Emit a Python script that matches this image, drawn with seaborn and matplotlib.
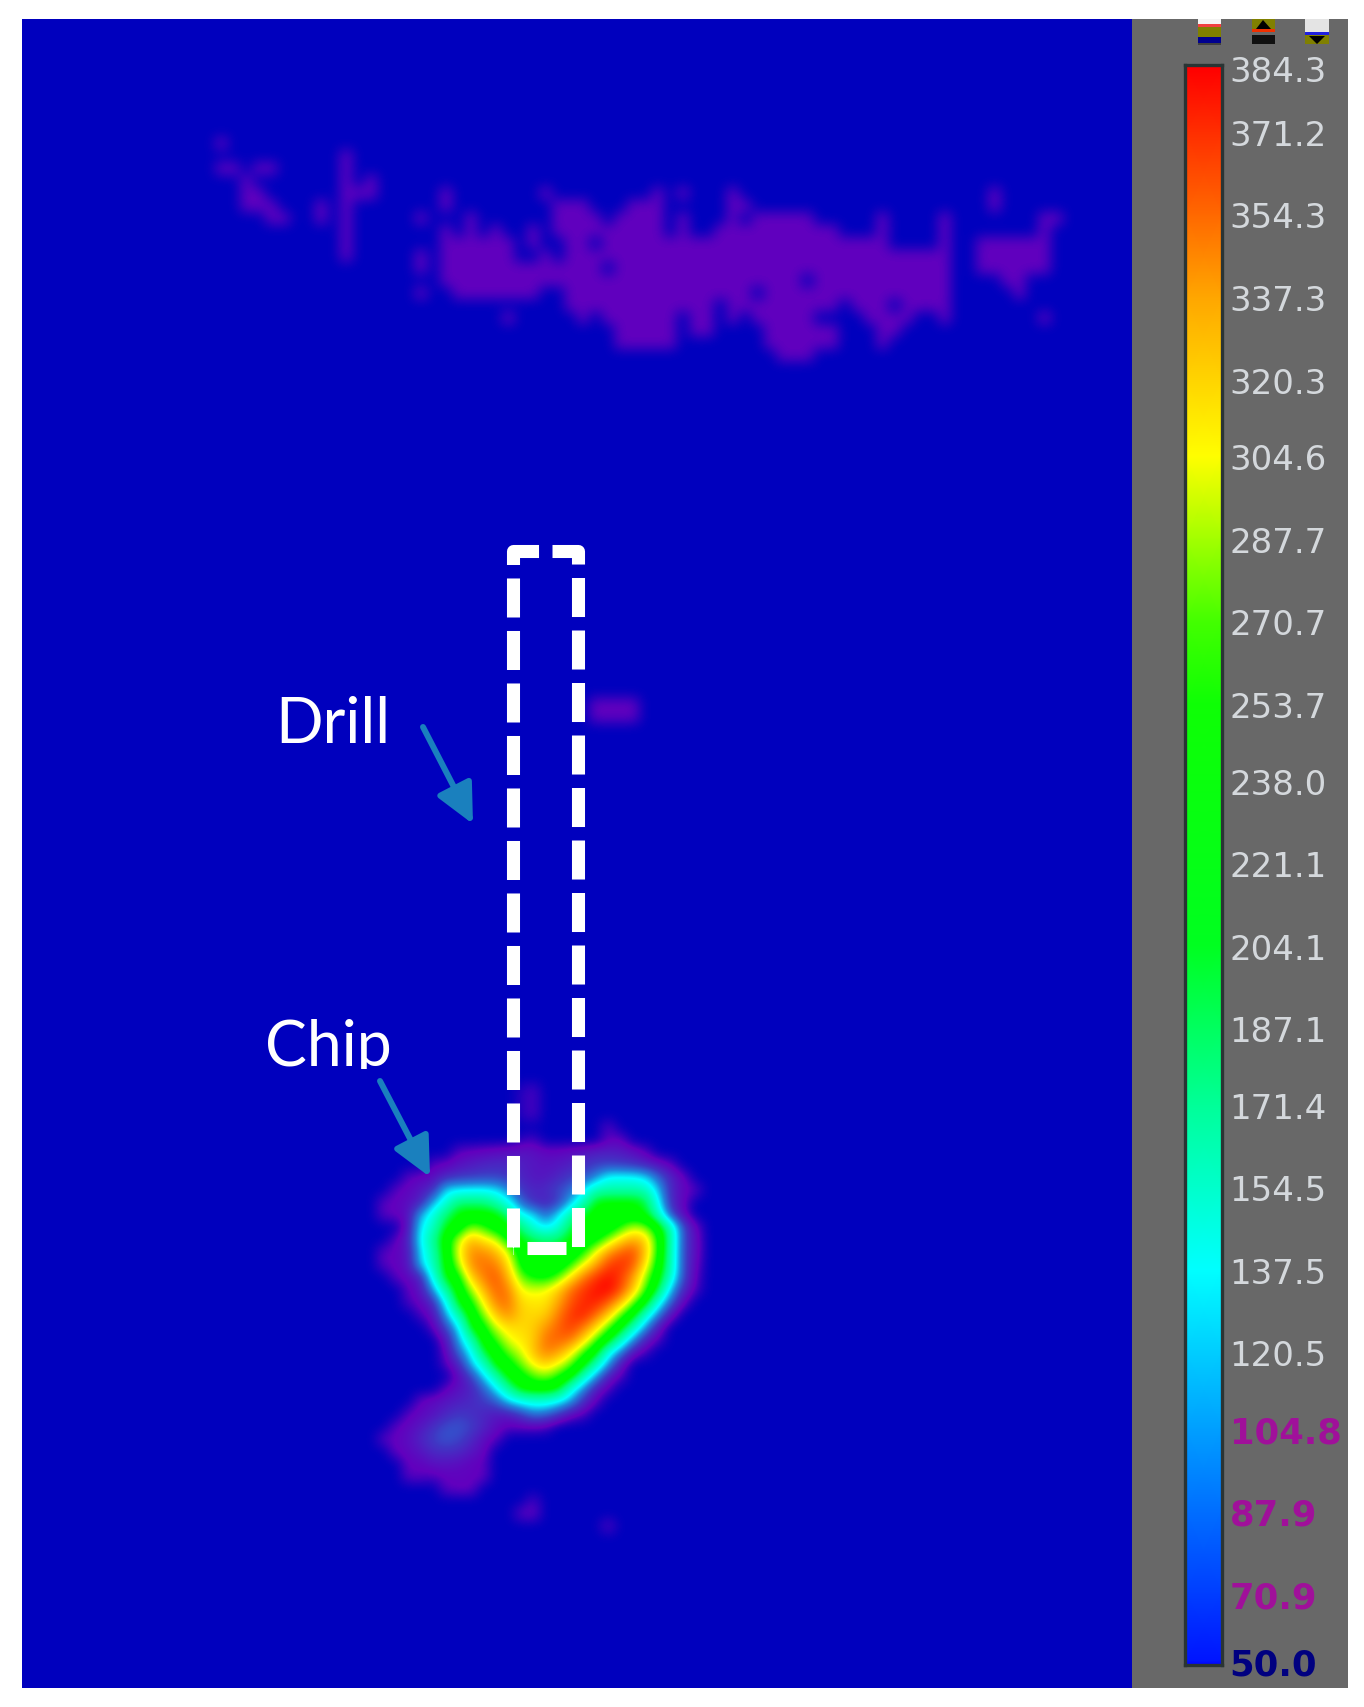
import numpy as np
import matplotlib
matplotlib.use("Agg")
import matplotlib.pyplot as plt
import seaborn as sns
from matplotlib.colors import LinearSegmentedColormap, Normalize
from matplotlib.patches import FancyArrowPatch, Polygon, Rectangle

# colour bar labels, top to bottom
bar_ticks = [384.3, 371.2, 354.3, 337.3, 320.3, 304.6, 287.7, 270.7, 253.7, 238.0, 221.1,
             204.1, 187.1, 171.4, 154.5, 137.5, 120.5, 104.8, 87.9, 70.9, 50.0]
bar_label_colors = ["#d4d8dc"] * 17 + ["#a0109a"] * 3 + ["#000080"]

# temperature of the background and of the faint top cloud
background_temp = 50.0
cloud_temp = 63.0

# faint cloud, as (row, first column, last column) runs of grid cells
cloud_runs = [
    (10, 16, 16), (11, 26, 26),
    (12, 16, 17), (12, 19, 20), (12, 26, 26),
    (13, 18, 18), (13, 26, 26), (13, 28, 28),
    (14, 18, 19), (14, 26, 28), (14, 34, 34), (14, 42, 42), (14, 51, 51), (14, 53, 53),
    (14, 57, 57), (14, 78, 78),
    (15, 18, 20), (15, 24, 24), (15, 26, 26), (15, 34, 34), (15, 43, 45), (15, 49, 51),
    (15, 57, 58), (15, 78, 78),
    (16, 20, 21), (16, 24, 24), (16, 26, 26), (16, 32, 32), (16, 36, 36), (16, 43, 46),
    (16, 48, 51), (16, 53, 53), (16, 57, 57), (16, 59, 63), (16, 69, 69), (16, 74, 74),
    (16, 82, 83),
    (17, 26, 26), (17, 34, 34), (17, 36, 36), (17, 38, 38), (17, 41, 41), (17, 43, 47),
    (17, 48, 51), (17, 53, 53), (17, 56, 65), (17, 69, 69), (17, 74, 74), (17, 82, 82),
    (18, 26, 26), (18, 34, 39), (18, 41, 41), (18, 44, 45), (18, 47, 69), (18, 74, 74),
    (18, 77, 82),
    (19, 26, 26), (19, 32, 32), (19, 34, 39), (19, 42, 42), (19, 44, 74), (19, 77, 82),
    (20, 32, 32), (20, 34, 46), (20, 48, 74), (20, 77, 82),
    (21, 34, 62), (21, 64, 74), (21, 79, 80),
    (22, 32, 32), (22, 35, 41), (22, 44, 58), (22, 60, 74), (22, 80, 80),
    (23, 44, 55), (23, 57, 65), (23, 67, 69), (23, 71, 74),
    (24, 39, 39), (24, 45, 45), (24, 47, 52), (24, 54, 55), (24, 57, 57), (24, 59, 63),
    (24, 68, 71), (24, 74, 74), (24, 82, 82),
    (25, 48, 52), (25, 54, 55), (25, 60, 65), (25, 69, 70),
    (26, 48, 52), (26, 60, 65), (26, 69, 69),
    (27, 61, 63),
    (55, 46, 49), (56, 46, 49),
]

# hot spot below the drill: first row, then first column and values of each row
chip_first_row = 86
chip_first_cols = [40, 40, 40, 47, 40, 35, 33, 31, 30, 29, 29, 31, 30, 29, 29, 30, 31, 31, 32, 33, 34,
                   34, 34, 35, 34, 32, 31, 30, 29, 30, 31, 31, 34, 41, 40, 47]
chip_values = [
    [55, 60],
    [55, 60],
    [55, 60],
    [62],
    [55, 60, 50, 50, 50, 50, 50, 62, 64],
    [62, 64, 66, 68, 70, 72, 70, 66, 66, 68, 72, 76, 76, 74, 70, 62],
    [62, 64, 70, 74, 78, 80, 80, 76, 72, 70, 72, 76, 82, 86, 88, 86, 82, 76, 70, 62],
    [62, 64, 68, 78, 84, 86, 88, 88, 84, 78, 72, 72, 78, 86, 92, 110, 140, 140, 140, 130, 100, 78, 65],
    [62, 65, 72, 80, 130, 132, 135, 135, 130, 110, 85, 78, 80, 90, 100, 130, 165, 170, 170, 170, 165, 125, 78, 66, 62],
    [62, 64, 68, 75, 120, 150, 190, 190, 190, 170, 140, 100, 80, 75, 85, 120, 160, 215, 220, 220, 220, 205, 140, 80, 65],
    [62, 64, 68, 120, 150, 190, 220, 222, 222, 220, 190, 140, 130, 100, 130, 170, 210, 225, 225, 225, 225, 215, 165, 92, 65],
    [70, 135, 160, 215, 225, 270, 255, 230, 220, 190, 150, 130, 150, 200, 225, 225, 225, 250, 280, 270, 230, 170, 92, 65],
    [62, 75, 140, 180, 230, 280, 320, 300, 285, 240, 215, 200, 190, 195, 220, 230, 235, 270, 305, 325, 310, 250, 175, 92, 68],
    [62, 64, 70, 130, 170, 225, 290, 335, 335, 320, 285, 230, 215, 210, 215, 225, 245, 290, 330, 350, 360, 315, 250, 170, 92, 68],
    [62, 64, 70, 125, 165, 220, 275, 335, 345, 340, 305, 240, 220, 218, 225, 250, 290, 325, 360, 370, 355, 300, 240, 170, 92, 65],
    [62, 66, 75, 150, 215, 240, 310, 340, 355, 320, 265, 245, 240, 260, 300, 340, 365, 380, 365, 330, 275, 225, 160, 92, 62],
    [62, 70, 115, 180, 225, 275, 320, 350, 340, 290, 285, 290, 310, 345, 365, 378, 384, 360, 315, 260, 205, 125, 80, 60],
    [60, 65, 80, 140, 215, 245, 295, 340, 345, 305, 300, 300, 325, 355, 370, 375, 355, 320, 270, 225, 150, 100, 65],
    [60, 68, 115, 175, 225, 270, 315, 335, 310, 305, 310, 340, 365, 375, 350, 315, 265, 225, 160, 110, 70],
    [62, 90, 130, 215, 240, 285, 305, 305, 310, 330, 350, 365, 345, 310, 265, 225, 170, 115, 72],
    [70, 115, 170, 225, 255, 290, 300, 310, 345, 350, 345, 310, 265, 225, 170, 115, 75, 60],
    [62, 100, 135, 205, 230, 265, 285, 315, 340, 330, 300, 260, 225, 150, 110, 70, 58],
    [60, 75, 120, 160, 220, 235, 265, 295, 310, 290, 265, 225, 170, 115, 70],
    [65, 85, 125, 170, 220, 235, 260, 270, 250, 225, 165, 115, 72, 60],
    [62, 70, 75, 95, 130, 175, 220, 225, 225, 215, 150, 110, 72, 60],
    [64, 68, 72, 75, 80, 85, 95, 125, 140, 150, 150, 135, 115, 80, 62],
    [62, 66, 70, 78, 85, 82, 78, 72, 72, 85, 105, 100, 85, 66, 60],
    [62, 66, 72, 82, 92, 95, 88, 78, 68, 62, 62, 62, 60],
    [62, 64, 68, 78, 88, 95, 90, 80, 68, 62],
    [64, 66, 72, 80, 82, 80, 72, 66],
    [64, 64, 70, 70, 68, 64, 62],
    [62, 62, 60, 64, 64, 64, 64],
    [62, 64, 64],
    [60],
    [62, 64],
    [62],
]

grid_cols = 91
grid_rows = 136

# colours of the picture and of the bar
map_levels = [50, 63, 85, 110, 137.5, 187, 215, 248, 292, 328, 384.3]
map_colors = ["#0000be", "#6200be", "#4036c4", "#1f86dc", "#00ffff", "#00ff80", "#00ff00",
              "#00ff00", "#ffff00", "#ffa000", "#ff0000"]
bar_levels = [50, 137.5, 171, 204, 262, 304, 337, 354, 384.3]
bar_colors = ["#0000ff", "#00ffff", "#00ff99", "#00ff20", "#10ff00", "#ffff00", "#ffa800",
              "#ff6a00", "#ff0000"]


def make_cmap(levels, colors):
    low, high = levels[0], levels[-1]
    stops = [(v - low) / (high - low) for v in levels]
    return LinearSegmentedColormap.from_list("temp", list(zip(stops, colors)), N=1024)


def px_axes(fig, left, top, right, bottom, W=1364, H=1708):
    return fig.add_axes([left / W, 1 - bottom / H, (right - left) / W, (bottom - top) / H])


sns.set_theme(style="white")
plt.rcParams["lines.scale_dashes"] = False

grid = np.full((grid_rows, grid_cols), background_temp)
for row, first, last in cloud_runs:
    grid[row, first:last + 1] = cloud_temp
for i, (first, vals) in enumerate(zip(chip_first_cols, chip_values)):
    grid[chip_first_row + i, first:first + len(vals)] = vals

map_cmap = make_cmap(map_levels, map_colors)
bar_cmap = make_cmap(bar_levels, bar_colors)

fig = plt.figure(figsize=(13.64, 17.08), dpi=100, facecolor="white")

panel = px_axes(fig, 1132, 20, 1348, 1689)
panel.set_facecolor("#686868")
panel.set_xticks([])
panel.set_yticks([])
for s in panel.spines.values():
    s.set_visible(False)

# main thermal picture, smoothed like the camera software does it
ax = px_axes(fig, 22, 20, 1132, 1689)
sns.heatmap(grid, ax=ax, cmap=map_cmap, vmin=map_levels[0], vmax=map_levels[-1], cbar=False,
            xticklabels=False, yticklabels=False)
ax.imshow(grid, cmap=map_cmap, norm=Normalize(map_levels[0], map_levels[-1]), aspect="auto",
          extent=(0, grid_cols, grid_rows, 0), interpolation="bicubic", interpolation_stage="data",
          zorder=2)
ax.set_xlim(0.5, 89.51)
ax.set_ylim(134.5, 0.5)

# colour bar with its labels
bar = px_axes(fig, 1185, 66, 1222, 1666)
bar_pos = [385.0] + bar_ticks[:-1] + [57.1, 56.3]
bar_vals = [384.3] + bar_ticks[:-1] + [57.1, 50.0]
bar.pcolormesh([0, 1], bar_pos, np.column_stack([bar_vals, bar_vals]), cmap=bar_cmap,
               vmin=50, vmax=384.3, shading="gouraud")
bar.set_xlim(0, 1)
bar.set_ylim(56.3, 385.0)
bar.set_xticks([])
bar.yaxis.tick_right()
bar.set_yticks(bar_pos[1:-1])
bar.set_yticklabels([f"{v:.1f}" for v in bar_ticks])
bar.tick_params(axis="y", length=0, pad=5.5)
for lab, col in zip(bar.get_yticklabels(), bar_label_colors):
    lab.set_color(col)
    lab.set_fontfamily("DejaVu Sans")
    if col == "#d4d8dc":
        lab.set_fontsize(24.5)
    else:
        lab.set_fontsize(25.5)
        lab.set_fontweight("bold")
for s in bar.spines.values():
    s.set_visible(True)
    s.set_color("#2a3434")
    s.set_linewidth(2.4)

# overlay in pixel units for the notes
over = px_axes(fig, 0, 0, 1364, 1708)
over.set_xlim(0, 1364)
over.set_ylim(1708, 0)
over.axis("off")

# drill outline
drill_x = [513, 513, 577.5, 577.5, 513]
drill_y = [1248, 551.5, 551.5, 1249, 1249]
over.plot(drill_x, drill_y, color="white", lw=9.4, dashes=(28.1, 9.7),
          dash_capstyle="butt", dash_joinstyle="round")

arrow_color = "#1a80be"
for start, tip in [((423, 728), (473, 825)), ((380, 1082), (430, 1178))]:
    over.add_patch(FancyArrowPatch(start, tip, arrowstyle="-|>,head_length=1.2,head_width=0.58",
                                   mutation_scale=20, lw=4.3, color=arrow_color,
                                   shrinkA=0, shrinkB=0))

over.text(275, 743, "Drill", color="white", fontsize=45, family="Lato", va="baseline")
chip = over.text(265, 1066, "Chip", color="white", fontsize=45, family="Lato", va="baseline")
chip.set_clip_on(True)
chip.set_clip_path(Rectangle((240, 1000), 200, 70, transform=over.transData))

# little buttons above the bar
buttons = [
    (1198, 1221, [(20, 25, "#f4f4f4"), (25, 28, "#f04040"), (28, 38, "#808000"), (38, 44, "#000090"), (44, 46, "#404040")]),
    (1252, 1275, [(20, 30, "#808000"), (30, 33, "#f03000"), (33, 36, "#686868"), (36, 45, "#101010")]),
    (1305, 1329, [(20, 33, "#e4e4e4"), (33, 36, "#2020e0"), (36, 45, "#808000")]),
]
for left, right, stripes in buttons:
    for top, bottom, col in stripes:
        over.add_patch(Rectangle((left, top), right - left, bottom - top, color=col, lw=0))
over.add_patch(Polygon([(1256, 30), (1263, 21), (1271, 30)], color="black", lw=0))
over.add_patch(Polygon([(1309, 37), (1317, 45), (1325, 37)], color="black", lw=0))

fig.savefig("out.png", dpi=100)
